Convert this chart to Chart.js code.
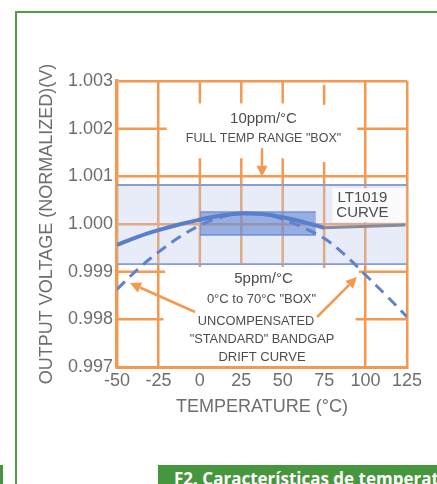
<!DOCTYPE html>
<html>
<head>
<meta charset="utf-8">
<script src="https://cdn.jsdelivr.net/npm/chart.js@4.4.0/dist/chart.umd.min.js"></script>
<style>
  html, body { margin: 0; padding: 0; background: #fff; }
  body { width: 437px; height: 484px; position: relative; overflow: hidden; }
  .frame-top { position: absolute; left: 15px; top: 11px; width: 422px; height: 2px; background: #519c49; }
  .frame-left { position: absolute; left: 15px; top: 11px; width: 2px; height: 473px; background: #519c49; }
  .stub { position: absolute; left: 0; top: 465px; width: 3px; height: 19px; background: #46963d; }
  .caption { position: absolute; left: 158px; top: 465px; width: 279px; height: 19px; background: #46963d;
             color: #fff; font: bold 17px "Open Sans", sans-serif; white-space: nowrap; overflow: hidden;
             padding-left: 16px; box-sizing: border-box; line-height: 27px; }
  canvas { position: absolute; left: 0; top: 0; }
</style>
</head>
<body>
<div class="frame-top"></div>
<div class="frame-left"></div>
<div class="stub"></div>
<div class="caption">F2. Características de temperatura</div>
<canvas id="chart" width="437" height="484"></canvas>
<script>
const temps = [-50, -37.5, -25, -12.5, 0, 12.5, 25, 37.5, 50, 62.5, 75, 87.5, 100, 112.5, 125];
// uncompensated "standard" bandgap drift (dashed)
const bandgapCurve = [0.99863, 0.99905, 0.99941, 0.99972, 0.99997, 1.00014, 1.00023, 1.00021,
                      1.00010, 0.99992, 0.99970, 0.99935, 0.99893, 0.99850, 0.99805];
// LT1019 curve (solid), -50..75
const lt1019Curve = [0.99956, 0.99973, 0.99987, 0.99999, 1.00009, 1.00018, 1.00022, 1.00021,
                     1.00014, 1.00004, 0.99992];
// leader from the LT1019 curve to its label
const leaderT = [75, 124];
const leaderV = [0.99992, 0.99998];

// 10ppm/°C full temp range box and 5ppm/°C 0..70 box
const fullBoxT = [-50, 125];
const fullBoxV = [0.99916, 1.00082];
const smallBoxT = [0, 70];
const smallBoxV = [0.99977, 1.00025];

const xTicks = [-50, -25, 0, 25, 50, 75, 100, 125];
const yTickLabels = ['0.997', '0.998', '0.999', '1.000', '1.001', '1.002', '1.003'];

const orange = '#f39a50';
const textGrey = '#6e6e6e';

function pts(xs, ys) {
  return ys.map((y, i) => ({ x: xs[i], y: y }));
}

// broken orange grid pieces [t1, v1, t2, v2]
const gridPieces = [
  [0, 1.003, 0, 1.00253], [0, 1.00138, 0, 0.9991],
  [25, 1.003, 25, 1.00253], [25, 1.00138, 25, 0.99914],
  [50, 1.003, 50, 1.00253], [50, 1.00138, 50, 0.9991],
  [75, 1.00292, 75, 1.0025], [75, 1.0013, 75, 0.99908],
  [-50, 1.002, -20, 1.002], [95, 1.002, 125, 1.002],
  [-50, 0.999, -21, 0.999], [96, 0.999, 125, 0.999],
  [-50, 0.998, -22, 0.998], [94, 0.998, 125, 0.998]
];

const notes = [
  { t: 38.4, v: 1.00220, text: '10ppm/°C', size: 15 },
  { t: 38.4, v: 1.00180, text: 'FULL TEMP RANGE "BOX"', size: 12.5 },
  { t: 98.1, v: 1.000545, text: 'LT1019', size: 15 },
  { t: 98.1, v: 1.00023, text: 'CURVE', size: 15 },
  { t: 38.4, v: 0.998846, text: '5ppm/°C', size: 15 },
  { t: 37.2, v: 0.998426, text: '0°C to 70°C "BOX"', size: 13 },
  { t: 33.9, v: 0.997965, text: 'UNCOMPENSATED', size: 12.8 },
  { t: 37.5, v: 0.997587, text: '"STANDARD" BANDGAP', size: 12.8 },
  { t: 37.5, v: 0.997209, text: 'DRIFT CURVE', size: 13 }
];

const arrows = [
  { from: [37.5, 1.00159], to: [37.5, 1.00099] },
  { from: [-2.9, 0.998154], to: [-42.2, 0.998762] },
  { from: [70.7, 0.998049], to: [94.8, 0.998888] }
];

const annotate = {
  id: 'annotate',
  beforeDatasetsDraw(chart) {
    const ctx = chart.ctx, xs = chart.scales.x, ys = chart.scales.y;
    ctx.save();
    ctx.strokeStyle = orange;
    ctx.lineWidth = 2.5;
    gridPieces.forEach(p => {
      ctx.beginPath();
      ctx.moveTo(xs.getPixelForValue(p[0]), ys.getPixelForValue(p[1]));
      ctx.lineTo(xs.getPixelForValue(p[2]), ys.getPixelForValue(p[3]));
      ctx.stroke();
    });
    ctx.restore();
  },
  afterDatasetsDraw(chart) {
    const ctx = chart.ctx, xs = chart.scales.x, ys = chart.scales.y;
    const X = t => xs.getPixelForValue(t), Y = v => ys.getPixelForValue(v);
    ctx.save();
    // white label box for LT1019
    ctx.fillStyle = '#fbfbfb';
    ctx.fillRect(X(80), Y(1.00075), X(124) - X(80), Y(1.00004) - Y(1.00075));

    ctx.fillStyle = '#4d4d4d';
    ctx.textAlign = 'center';
    ctx.textBaseline = 'middle';
    notes.forEach(n => {
      ctx.font = n.size + 'px "Liberation Sans", Arial, sans-serif';
      ctx.fillText(n.text, X(n.t), Y(n.v));
    });

    ctx.strokeStyle = orange;
    ctx.fillStyle = orange;
    ctx.lineWidth = 2.5;
    arrows.forEach(a => {
      const x1 = X(a.from[0]), y1 = Y(a.from[1]);
      const x2 = X(a.to[0]), y2 = Y(a.to[1]);
      const ang = Math.atan2(y2 - y1, x2 - x1);
      const len = 11, half = 5.5;
      const bx = x2 - len * Math.cos(ang), by = y2 - len * Math.sin(ang);
      ctx.beginPath();
      ctx.moveTo(x1, y1);
      ctx.lineTo(bx, by);
      ctx.stroke();
      ctx.beginPath();
      ctx.moveTo(x2, y2);
      ctx.lineTo(bx + half * Math.sin(ang), by - half * Math.cos(ang));
      ctx.lineTo(bx - half * Math.sin(ang), by + half * Math.cos(ang));
      ctx.closePath();
      ctx.fill();
    });
    ctx.restore();
  }
};

const yOrange = [1.003, 1.001, 1.000];
const xOrange = [-25, 100, 125];

new Chart(document.getElementById('chart'), {
  type: 'line',
  data: {
    datasets: [
      {
        data: pts(fullBoxT, [fullBoxV[1], fullBoxV[1]]),
        borderColor: '#8d9dd0', borderWidth: 2,
        backgroundColor: 'rgba(185,200,236,0.35)', fill: '+1',
        pointRadius: 0, order: 10
      },
      {
        data: pts(fullBoxT, [fullBoxV[0], fullBoxV[0]]),
        borderColor: '#8d9dd0', borderWidth: 2, fill: false,
        pointRadius: 0, order: 10
      },
      {
        data: pts(smallBoxT, [smallBoxV[1], smallBoxV[1]]),
        borderColor: '#7594d4', borderWidth: 1.5,
        backgroundColor: 'rgba(96,132,210,0.6)', fill: '+1',
        pointRadius: 0, order: 8
      },
      {
        data: pts(smallBoxT, [smallBoxV[0], smallBoxV[0]]),
        borderColor: '#7594d4', borderWidth: 1.5, fill: false,
        pointRadius: 0, order: 8
      },
      {
        data: pts(temps, bandgapCurve),
        borderColor: '#5f83cf', borderWidth: 3, borderDash: [11, 7],
        tension: 0.4, fill: false, pointRadius: 0, order: 3
      },
      {
        data: pts(temps, lt1019Curve),
        borderColor: '#5a7ecb', borderWidth: 4,
        tension: 0.4, fill: false, pointRadius: 0, order: 2
      },
      {
        data: pts(leaderT, leaderV),
        borderColor: '#878a99', borderWidth: 3, fill: false,
        pointRadius: 0, order: 1
      }
    ]
  },
  options: {
    responsive: false,
    animation: false,
    layout: { padding: { top: 81, right: 30, left: 0, bottom: 0 } },
    plugins: { legend: { display: false }, tooltip: { enabled: false } },
    scales: {
      x: {
        type: 'linear', min: -50, max: 125,
        afterBuildTicks: s => { s.ticks = xTicks.map(v => ({ value: v })); },
        afterFit: s => { s.height = 117; },
        grid: {
          drawTicks: false, lineWidth: 2.5,
          color: c => xOrange.includes(c.tick && c.tick.value) ? orange : 'rgba(0,0,0,0)'
        },
        border: { color: orange, width: 3 },
        ticks: { color: textGrey, padding: 3, font: { size: 18, family: '"Liberation Sans", Arial' } },
        title: {
          display: true, text: 'TEMPERATURE (°C)', color: textGrey,
          font: { size: 18, family: '"Liberation Sans", Arial' },
          padding: { top: 0, bottom: 66 }
        }
      },
      y: {
        min: 0.997, max: 1.003,
        afterBuildTicks: s => { s.ticks = yTickLabels.map(l => ({ value: parseFloat(l) })); },
        afterFit: s => { s.width = 117; },
        grid: {
          drawTicks: false, lineWidth: 2.5,
          color: c => {
            const v = c.tick ? Math.round(c.tick.value * 1000) / 1000 : null;
            return yOrange.includes(v) ? orange : 'rgba(0,0,0,0)';
          }
        },
        border: { color: orange, width: 3.5 },
        ticks: {
          color: textGrey, padding: 4,
          font: { size: 18, family: '"Liberation Sans", Arial' },
          callback: (v, i) => yTickLabels[i]
        },
        title: {
          display: true, text: 'OUTPUT VOLTAGE (NORMALIZED)(V)', color: textGrey,
          font: { size: 18, family: '"Liberation Sans", Arial' },
          padding: { top: 36, bottom: 0 }
        }
      }
    }
  },
  plugins: [annotate]
});
</script>
</body>
</html>
